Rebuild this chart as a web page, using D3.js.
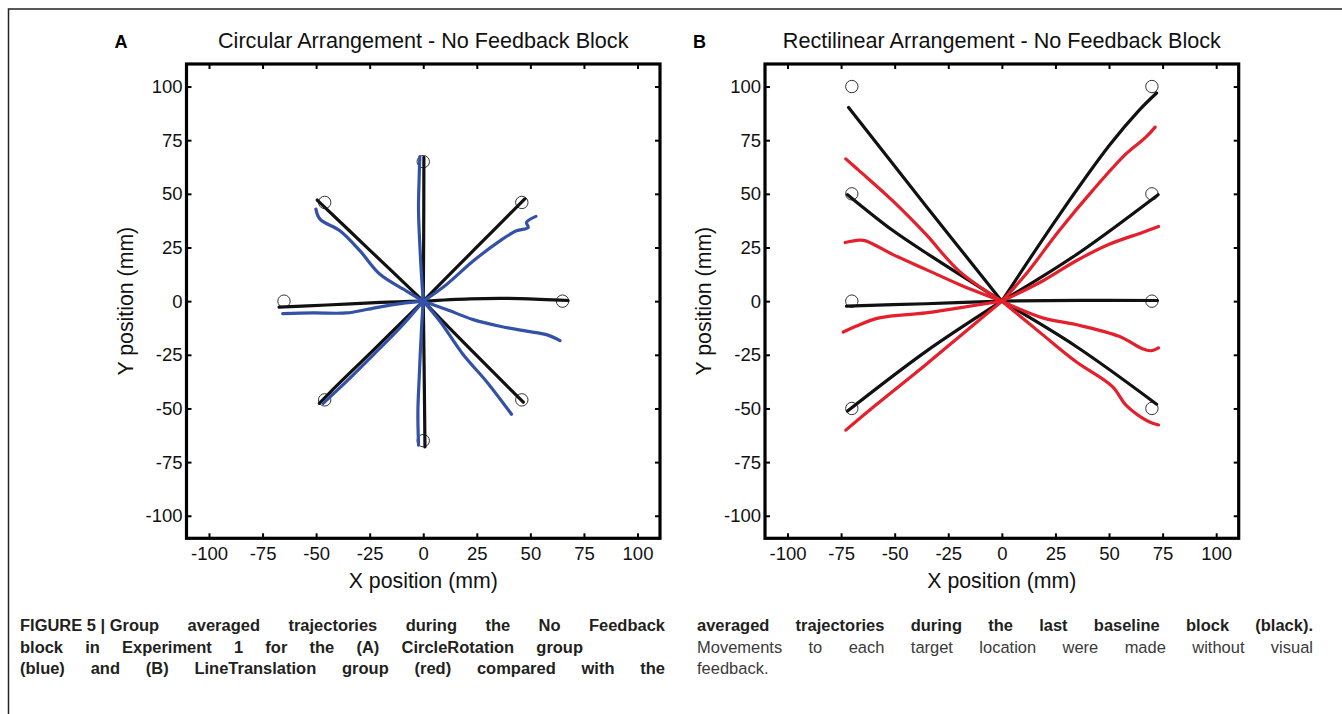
<!DOCTYPE html>
<html>
<head>
<meta charset="utf-8">
<script src="https://cdn.jsdelivr.net/npm/d3@7"></script>
<style>
  html, body { margin: 0; padding: 0; background: #fff; }
  svg { display: block; }
</style>
</head>
<body>
<svg id="fig" width="1342" height="714"></svg>
<script>
// ---- Axis ticks (mm) ----
const tickValues = [-100, -75, -50, -25, 0, 25, 50, 75, 100];
const axisDomain = [-110.5, 110.5];

// ---- Panel A: circular arrangement of targets (mm) ----
const circTargets = [[65, 0], [46, 46], [0, 65], [-46, 46], [-65, 0], [-46, -46], [0, -65], [46, -46]];

// Last baseline block, group-averaged (black)
const circBaseline = [
  [[0, 0], [21.8, 1.1], [45, 1.2], [67.6, 0.3]],
  [[0, 0], [24, 24.2], [47.4, 47.6]],
  [[0, 0], [0.2, 30], [0.3, 67]],
  [[0, 0], [-25, 23.8], [-49.5, 47.1]],
  [[0, 0], [-20, -0.6], [-45, -1.8], [-67.3, -2.8]],
  [[0, 0], [-24, -23.5], [-43, -42], [-48.5, -47.6]],
  [[0, 0], [0.4, -30], [0.8, -67.9]],
  [[0, 0], [23, -23.4], [46.7, -47.1]]
];

// No Feedback block, CircleRotation group (blue)
const circRotation = [
  [[0, 0], [10.9, -3.9], [23.3, -8.6], [35.8, -11.7], [48.2, -14], [57.5, -15.6], [63.8, -18.4]],
  [[0, 0], [10.9, 7.8], [23.3, 18.7], [35.8, 28.1], [43.5, 32.8], [49, 34.3], [48.2, 36.7], [52.6, 39.5]],
  [[0, 0], [-1.2, 18.7], [-2.2, 42.1], [-1.9, 57.7], [-1.6, 67.4]],
  [[0, 0], [-7.8, 4.7], [-20.2, 12.5], [-29.5, 23.4], [-38.9, 32.8], [-48.2, 38.2], [-50.1, 42.9]],
  [[0, 0], [-14, -1.6], [-26.4, -3.9], [-35.8, -5.5], [-51.3, -5.5], [-65.6, -5.8]],
  [[0, 0], [-10.9, -12.5], [-23.3, -25], [-35.8, -37.4], [-46.7, -47.6]],
  [[0, 0], [-0.8, -12.5], [-1.9, -35.9], [-2.5, -51.5], [-2.2, -67.1]],
  [[0, 0], [7.8, -9.4], [18.7, -25], [29.5, -37.4], [41.2, -52.7]]
];

// ---- Panel B: rectilinear arrangement of targets (mm) ----
const lineTargets = [[-70, 100], [-70, 50], [-70, 0], [-70, -50], [70, 100], [70, 50], [70, 0], [70, -50]];

// Last baseline block, group-averaged (black)
const lineBaseline = [
  [[0, 0], [-35.5, 44.5], [-71.5, 90.2]],
  [[0, 0], [-32.3, 20.5], [-51, 33], [-72, 49.6]],
  [[0, 0], [-35.5, -1.2], [-72.5, -2.3]],
  [[0, 0], [-35.5, -23.5], [-72, -51.2]],
  [[0, 0], [26.7, 40], [50.1, 72.5], [64.1, 89], [72.2, 97]],
  [[0, 0], [34.5, 21.5], [72.9, 49.6]],
  [[0, 0], [36, 0.4], [72.6, 0.3]],
  [[0, 0], [34.5, -21], [72.2, -48]]
];

// No Feedback block, LineTranslation group (red)
const lineTranslation = [
  [[0, 0], [-19.9, 14], [-35.5, 31.2], [-51, 46.8], [-66.6, 60.8], [-72.8, 66.3]],
  [[0, 0], [-19.9, 7.8], [-35.5, 14.8], [-51, 21.8], [-63.5, 28.1], [-66.6, 28.4], [-73.1, 27.3]],
  [[0, 0], [-19.9, -3.1], [-35.5, -5.5], [-57.2, -7.8], [-68.1, -11.7], [-74, -14.4]],
  [[0, 0], [-16.8, -14], [-35.5, -29.6], [-58.8, -48.4], [-72.8, -60.1]],
  [[0, 0], [11.2, 12.5], [26.7, 32.8], [42.3, 51.5], [57.9, 68.6], [67.2, 76.4], [71.5, 81.1]],
  [[0, 0], [19, 9.4], [34.5, 18.7], [50.1, 26.5], [65.6, 32], [73.1, 34.8]],
  [[0, 0], [19, -7.8], [34.5, -10.9], [54.7, -16.4], [65.6, -22.2], [69.5, -23.1], [73.1, -21.8]],
  [[0, 0], [19, -15.6], [34.5, -28.1], [51.6, -39.8], [57.9, -48.4], [68.7, -56.2], [73.1, -57.7]]
];

// ---- Panel text ----
const panelLetters = ["A", "B"];
const panelTitles = ["Circular Arrangement - No Feedback Block", "Rectilinear Arrangement - No Feedback Block"];
const xLabel = "X position (mm)";
const yLabel = "Y position (mm)";

// ---- Caption lines: [text, bold, justify-to width (null = ragged)] ----
// non-breaking spaces keep a group of words at normal spacing
const captionLeft = [
  ["FIGURE\u00a05\u00a0|\u00a0Group averaged trajectories during the No Feedback", true, 645],
  ["block in Experiment 1 for the (A) CircleRotation group", true, 563],
  ["(blue) and (B) LineTranslation group (red) compared with the", true, 645]
];
const captionRight = [
  ["averaged trajectories during the last baseline block (black).", true, 616],
  ["Movements to each target location were made without visual", false, 616],
  ["feedback.", false, null]
];

const COLORS = { baseline: "#111111", rotation: "#3352a6", translation: "#e3202b" };
const FONT = "'Liberation Sans', Arial, Helvetica, sans-serif";
const CAPTION_FONT = "'Liberation Sans', Arial, Helvetica, sans-serif";
const CAPTION_SQUEEZE = 0.97;   // slightly condensed caption face

const fmt = d => String(d);

const svg = d3.select("#fig");
svg.append("rect").attr("width", 1342).attr("height", 714).attr("fill", "#fff");

// page frame (top and left rules)
svg.append("path")
  .attr("d", "M8.5,714 V9 H1342")
  .attr("fill", "none").attr("stroke", "#222").attr("stroke-width", 1.5);

const panels = [
  { left: 186.5, right: 660, top: 64, bottom: 538.3,
    targets: circTargets, base: circBaseline, test: circRotation, color: COLORS.rotation },
  { left: 765, right: 1238.7, top: 64, bottom: 538.3,
    targets: lineTargets, base: lineBaseline, test: lineTranslation, color: COLORS.translation }
];

panels.forEach((p, i) => {
  const x = d3.scaleLinear().domain(axisDomain).range([p.left, p.right]);
  const y = d3.scaleLinear().domain(axisDomain).range([p.bottom, p.top]);
  const g = svg.append("g");
  const line = d3.line().x(d => x(d[0])).y(d => y(d[1])).curve(d3.curveCatmullRom.alpha(0.5));

  // axes: labelled bottom/left, inward ticks on all four sides
  const styleAxis = sel => {
    sel.select(".domain").remove();
    sel.selectAll(".tick line").attr("stroke", "#000").attr("stroke-width", 2);
    sel.selectAll(".tick text").attr("fill", "#111")
      .style("font-family", FONT).style("font-size", "18.5px");
  };
  g.append("g").attr("transform", `translate(0,${p.bottom})`)
    .call(d3.axisBottom(x).tickValues(tickValues).tickSize(-5).tickPadding(9).tickFormat(fmt))
    .call(styleAxis);
  g.append("g").attr("transform", `translate(${p.left},0)`)
    .call(d3.axisLeft(y).tickValues(tickValues).tickSize(-5).tickPadding(4).tickFormat(fmt))
    .call(styleAxis);
  g.append("g").attr("transform", `translate(0,${p.top})`)
    .call(d3.axisTop(x).tickValues(tickValues).tickSize(-5).tickFormat(""))
    .call(styleAxis);
  g.append("g").attr("transform", `translate(${p.right},0)`)
    .call(d3.axisRight(y).tickValues(tickValues).tickSize(-5).tickFormat(""))
    .call(styleAxis);

  // target circles
  g.append("g").selectAll("circle").data(p.targets).join("circle")
    .attr("cx", d => x(d[0])).attr("cy", d => y(d[1])).attr("r", 6.2)
    .attr("fill", "none").attr("stroke", "#333").attr("stroke-width", 1);

  // baseline trajectories, then no-feedback trajectories on top
  g.append("g").selectAll("path").data(p.base).join("path")
    .attr("d", line).attr("fill", "none").attr("stroke", COLORS.baseline)
    .attr("stroke-width", 3.2).attr("stroke-linecap", "round").attr("stroke-linejoin", "round");
  g.append("g").selectAll("path").data(p.test).join("path")
    .attr("d", line).attr("fill", "none").attr("stroke", p.color)
    .attr("stroke-width", 3.2).attr("stroke-linecap", "round").attr("stroke-linejoin", "round");

  // box
  g.append("rect")
    .attr("x", p.left).attr("y", p.top)
    .attr("width", p.right - p.left).attr("height", p.bottom - p.top)
    .attr("fill", "none").attr("stroke", "#000").attr("stroke-width", 3.2);

  const cx = (p.left + p.right) / 2;
  // title and panel letter
  g.append("text").attr("x", cx).attr("y", 48).attr("text-anchor", "middle")
    .style("font-family", FONT).style("font-size", "21.6px").attr("fill", "#111")
    .text(panelTitles[i]);
  g.append("text").attr("x", p.left - 72).attr("y", 48)
    .style("font-family", FONT).style("font-size", "18px").style("font-weight", "bold").attr("fill", "#000")
    .text(panelLetters[i]);
  // axis labels
  g.append("text").attr("x", cx).attr("y", 588).attr("text-anchor", "middle")
    .style("font-family", FONT).style("font-size", "21.3px").attr("fill", "#111")
    .text(xLabel);
  g.append("text").attr("transform", `translate(${p.left - 54},${(p.top + p.bottom) / 2}) rotate(-90)`)
    .attr("text-anchor", "middle")
    .style("font-family", FONT).style("font-size", "21.3px").attr("fill", "#111")
    .text(yLabel);
});

// ---- Caption, set word by word so each line can be justified ----
function setColumn(lines, x0, baselines) {
  const s = CAPTION_SQUEEZE;
  lines.forEach(([txt, bold, width], k) => {
    const g = svg.append("g").attr("transform", `translate(${x0},${baselines[k]}) scale(${s},1)`);
    const words = txt.split(" ");
    const nodes = words.map(w => g.append("text")
      .style("font-family", CAPTION_FONT).style("font-size", "17px")
      .style("font-weight", bold ? "bold" : "normal")
      .attr("fill", bold ? "#231f20" : "#3a3a3a").text(w));
    const widths = nodes.map(n => n.node().getComputedTextLength());
    const total = d3.sum(widths);
    let gap = 4;
    if (width !== null && words.length > 1) gap = (width / s - total) / (words.length - 1);
    let cx = 0;
    nodes.forEach((n, j) => { n.attr("x", cx); cx += widths[j] + gap; });
  });
}
setColumn(captionLeft, 20, [631, 653, 674]);
setColumn(captionRight, 697, [631, 653, 674]);
</script>
</body>
</html>
